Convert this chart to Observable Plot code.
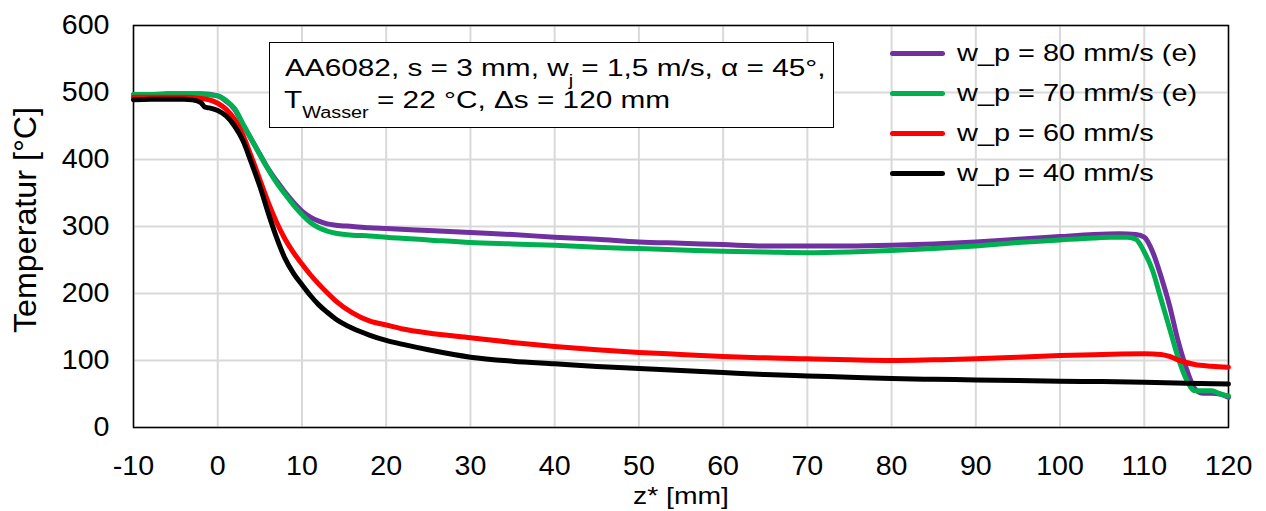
<!DOCTYPE html>
<html>
<head>
<meta charset="utf-8">
<script src="https://cdn.jsdelivr.net/npm/d3@7"></script>
<script src="https://cdn.jsdelivr.net/npm/@observablehq/plot@0.6"></script>
<style>
  body { margin: 0; background: #fff; }
  #wrap { position: relative; width: 1266px; height: 511px; overflow: hidden; font-family: "Liberation Sans", Arial, sans-serif; color: #000; }
  #wrap svg { position: absolute; left: 0; top: 0; }
  .annot { position: absolute; left: 269px; top: 42px; width: 565px; height: 86px; box-sizing: border-box; border: 1.5px solid #000; background: #fff; }
  .aline { position: absolute; white-space: nowrap; font-size: 24px; line-height: 24px; transform: scaleX(1.24); transform-origin: 0 50%; }
  .sub { font-size: 16px; position: relative; top: 10px; }
  .sw { position: absolute; width: 55px; height: 5px; border-radius: 3px; }
  .lt { position: absolute; white-space: nowrap; font-size: 24.5px; line-height: 24.5px; transform: scaleX(1.18); transform-origin: 0 50%; }
  .xtitle { position: absolute; left: 680.5px; top: 484.3px; white-space: nowrap; font-size: 24px; line-height: 24px; transform: translateX(-50%) scaleX(1.18); }
  .ytitle { position: absolute; left: 24.6px; top: 220px; white-space: nowrap; font-size: 31px; line-height: 31px; transform: translate(-50%, -50%) rotate(-90deg) scaleX(1.04); }
</style>
</head>
<body>
<div id="wrap"></div>
<script>
// ---------- data ----------
const seriesNames = ["w_p = 80 mm/s (e)", "w_p = 70 mm/s (e)", "w_p = 60 mm/s", "w_p = 40 mm/s"];
const seriesColors = ["#7030A0", "#00B050", "#FF0000", "#000000"];

const z80 = [-10,-8,-6,-4,-2,0,1,2,3,4,5,6,7,8,9,10,11,12,13,14,16,18,20,25,30,35,40,45,50,55,60,65,70,75,80,85,90,95,100,104,107,109,110,111,112,113,114,115,116,117,118,119,120];
const t80 = [497,497,498,498,498,495,487,475,452,430,408,386,368,351,336,323,314,308,304,302,300,298,297,294,291,288,284,281,277,275,273,271,271,271,272,274,277,281,285,288,289,288,284,262,225,182,130,88,58,51,51,50,45];

const z70 = [-10,-8,-6,-4,-2,0,1,2,3,4,5,6,7,8,9,10,11,12,13,14,16,18,20,25,30,35,40,45,50,55,60,65,70,75,80,85,90,95,100,104,106,108,109,110,111,112,113,114,115,116,117,118,119,120];
const t70 = [497,497,497,497,497,495,488,476,453,430,407,385,365,348,332,318,306,298,293,290,287,286,284,280,276,274,272,269,267,265,263,262,261,262,264,267,271,276,280,283,284,284,281,262,234,191,148,105,72,55,55,55,50,47];

const z60 = [-10,-8,-6,-4,-2,-1,0,1,2,3,4,5,6,7,8,9,10,11,12,13,14,16,18,20,22,25,30,35,40,45,50,55,60,65,70,75,80,85,90,95,100,105,110,112,113,114,115,116,118,120];
const t60 = [493,493,493,493,491,489,484,475,460,436,404,370,336,306,281,261,244,228,214,201,189,171,159,153,147,141,134,127,121,116,112,109,106,104,102.5,101,100,101,102.5,105,107.5,109,110,109,106,101,97,94,91.5,90];

const z40 = [-10,-8,-6,-4,-3,-2,-1.5,-1,0,1,2,3,4,5,6,7,8,9,10,11,12,13,14,16,18,20,22,25,30,35,40,45,50,55,60,65,70,75,80,85,90,95,100,105,110,115,120];
const t40 = [489,490,490,490,489,485,478,477,473,465,450,428,395,360,320,283,252,230,213,197,183,172,162,148,138,130,124,116,105,99,95,91,88,85,82,79,77,75,73,72,71,70,69,68.5,67.5,66,65];

const xTicks = [-10,0,10,20,30,40,50,60,70,80,90,100,110,120];
const yTicks = [0,100,200,300,400,500,600];
const xTitle = "z* [mm]";
const yTitle = "Temperatur [°C]";

const seriesZ = [z80, z70, z60, z40];
const seriesT = [t80, t70, t60, t40];

// ---------- build table ----------
const rows = [];
seriesNames.forEach((name, i) => {
  seriesZ[i].forEach((z, j) => rows.push({series: name, z, t: seriesT[i][j]}));
});

const lineMarks = seriesNames.map((name, i) =>
  Plot.line(rows.filter(d => d.series === name), {
    x: "z", y: "t", stroke: seriesColors[i], strokeWidth: 5,
    strokeLinejoin: "round", strokeLinecap: "round", curve: "monotone-x"
  })
);

const chart = Plot.plot({
  width: 1266,
  height: 511,
  marginLeft: 133,
  marginRight: 38,
  marginTop: 25,
  marginBottom: 84,
  style: {fontFamily: "'Liberation Sans', Arial, sans-serif", fontSize: "27px", color: "#000", background: "transparent"},
  x: {domain: [-10, 120]},
  y: {domain: [0, 600]},
  marks: [
    Plot.ruleX(xTicks, {stroke: "#d9d9d9", strokeWidth: 2}),
    Plot.ruleY(yTicks, {stroke: "#d9d9d9", strokeWidth: 2}),
    Plot.frame({stroke: "#000", strokeWidth: 1.5}),
    ...lineMarks,
    Plot.axisX(xTicks, {tickSize: 0, tickPadding: 28, label: null, fontSize: 27, tickFormat: d => String(d)}),
    Plot.axisY(yTicks, {tickSize: 0, tickPadding: 24, label: null, fontSize: 27, tickFormat: d => String(d)})
  ]
});

const wrap = document.getElementById("wrap");
wrap.appendChild(chart);

// slight horizontal stretch of tick glyphs (reference rendering is wider)
const stretch = {"x-axis tick label": 1.06, "y-axis tick label": 1.06};
chart.querySelectorAll("g[aria-label]").forEach(g => {
  const s = stretch[g.getAttribute("aria-label")];
  if (!s) return;
  g.querySelectorAll("text").forEach(t => {
    const bb = t.getBBox();
    const anchor = getComputedStyle(t).textAnchor;
    const ax = anchor === "end" ? bb.x + bb.width : anchor === "middle" ? bb.x + bb.width / 2 : bb.x;
    const tr = t.getAttribute("transform") || "";
    t.setAttribute("transform", `${tr} translate(${ax},0) scale(${s},1) translate(${-ax},0)`);
  });
});

// ---------- axis titles ----------
const xt = document.createElement("div");
xt.className = "xtitle";
xt.textContent = xTitle;
wrap.appendChild(xt);
const yt = document.createElement("div");
yt.className = "ytitle";
yt.textContent = yTitle;
wrap.appendChild(yt);

// ---------- annotation box ----------
const annot = document.createElement("div");
annot.className = "annot";
wrap.appendChild(annot);
const l1 = document.createElement("div");
l1.className = "aline";
l1.style.left = (285 - 269 - 1.5) + "px";
l1.style.top = (56.4 - 42 - 1.5) + "px";
l1.innerHTML = 'AA6082, s = 3 mm, w<span class="sub">j</span> = 1,5 m/s, α = 45°,';
annot.appendChild(l1);
const l2 = document.createElement("div");
l2.className = "aline";
l2.style.left = (284 - 269 - 1.5) + "px";
l2.style.top = (88 - 42 - 1.5) + "px";
l2.innerHTML = 'T<span class="sub">Wasser</span> = 22 °C, Δs = 120 mm';
annot.appendChild(l2);

// ---------- legend ----------
const legendCenters = [53, 93, 133, 173];
seriesNames.forEach((name, i) => {
  const sw = document.createElement("div");
  sw.className = "sw";
  sw.style.left = "890px";
  sw.style.top = (legendCenters[i] - 2.5) + "px";
  sw.style.background = seriesColors[i];
  wrap.appendChild(sw);
  const tx = document.createElement("div");
  tx.className = "lt";
  tx.style.left = "957px";
  tx.style.top = (legendCenters[i] - 12) + "px";
  tx.textContent = name;
  wrap.appendChild(tx);
});
</script>
</body>
</html>
